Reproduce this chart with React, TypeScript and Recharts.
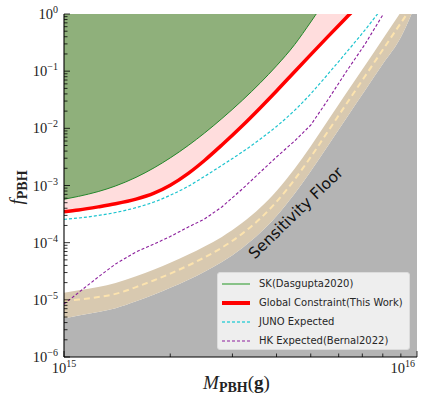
import React from 'react'
import { ComposedChart, Area, Line, XAxis, YAxis, ReferenceDot, Legend } from 'recharts'

// PBH mass grid (g)
const massGrams = [
  1.0e15, 1.1e15, 1.25e15, 1.4e15, 1.6e15, 1.8e15, 2.0e15, 2.25e15, 2.5e15, 2.8e15, 3.2e15,
  3.6e15, 4.0e15, 4.5e15, 5.0e15, 5.6e15, 6.3e15, 7.1e15, 8.0e15, 9.0e15, 1.0e16,
]

// f_PBH limits (values above 1 leave the frame)
const skDasgupta = [
  5.74e-4, 6.46e-4, 7.83e-4, 9.82e-4, 1.39e-3, 2.04e-3, 3.04e-3, 5.02e-3, 8.26e-3, 1.48e-2, 3.09e-2,
  6.25e-2, 0.124, 0.291, 0.724, 2.0, 5, 12, 30, 70, 150,
]
const globalConstraint = [
  3.48e-4, 3.74e-4, 4.23e-4, 4.79e-4, 5.78e-4, 7.35e-4, 1.01e-3, 1.63e-3, 2.74e-3, 5.11e-3, 1.11e-2,
  2.3e-2, 4.51e-2, 9.79e-2, 0.195, 0.406, 0.861, 1.84, 5, 12, 30,
]
const junoExpected = [
  2.56e-4, 2.7e-4, 2.99e-4, 3.37e-4, 4.1e-4, 5.15e-4, 6.75e-4, 9.7e-4, 1.44e-3, 2.25e-3, 3.86e-3,
  6.5e-3, 1.08e-2, 2.06e-2, 4.02e-2, 8.95e-2, 0.211, 0.512, 1.3, 3, 7,
]
const hkExpected = [
  8.46e-6, 1.34e-5, 2.51e-5, 4.24e-5, 6.87e-5, 9.48e-5, 1.28e-4, 1.88e-4, 2.59e-4, 4.21e-4, 8.69e-4,
  1.72e-3, 3.15e-3, 6.0e-3, 1.14e-2, 3.19e-2, 9.75e-2, 0.287, 0.96, 3, 8,
]
const floorUpper = [
  1.33e-5, 1.47e-5, 1.68e-5, 1.97e-5, 2.59e-5, 3.4e-5, 4.46e-5, 6.18e-5, 8.55e-5, 1.26e-4, 2.22e-4,
  4.12e-4, 8.04e-4, 1.97e-3, 4.88e-3, 1.38e-2, 4.09e-2, 0.122, 0.366, 1.08, 2.8,
]
const floorCentral = [
  9.66e-6, 1.01e-5, 1.12e-5, 1.27e-5, 1.67e-5, 2.2e-5, 2.88e-5, 3.99e-5, 5.52e-5, 8.17e-5, 1.44e-4,
  2.66e-4, 5.19e-4, 1.27e-3, 3.15e-3, 8.93e-3, 2.64e-2, 7.91e-2, 0.237, 0.697, 1.8,
]
const floorLower = [
  4.75e-6, 5.32e-6, 6.1e-6, 7.14e-6, 9.4e-6, 1.24e-5, 1.62e-5, 2.24e-5, 3.1e-5, 4.59e-5, 8.07e-5,
  1.5e-4, 2.92e-4, 7.14e-4, 1.77e-3, 5.02e-3, 1.49e-2, 4.45e-2, 0.133, 0.392, 1.7,
]

const xMajorTicks = [1e15, 1e16]
const xMinorTicks = [2e15, 3e15, 4e15, 5e15, 6e15, 7e15, 8e15, 9e15]
const yMajorTicks = [1e-6, 1e-5, 1e-4, 1e-3, 1e-2, 1e-1, 1]
const minorSteps = [2, 3, 4, 5, 6, 7, 8, 9]

const legendLabels = [
  'SK(Dasgupta2020)',
  'Global Constraint(This Work)',
  'JUNO Expected',
  'HK Expected(Bernal2022)',
]
const floorText = 'Sensitivity Floor'
const floorTextAt = { m: 4.54e15, f: 3.3e-4 }

const FILL_TOP = 1e3
const FILL_BOTTOM = 1e-7

const data = massGrams.map((m, i) => ({
  m,
  sk: skDasgupta[i],
  gc: globalConstraint[i],
  juno: junoExpected[i],
  hk: hkExpected[i],
  hi: floorUpper[i],
  mid: floorCentral[i],
  lo: floorLower[i],
}))

const xTicks = [...xMajorTicks, ...xMinorTicks].sort((a, b) => a - b)
const yTicks = [
  ...yMajorTicks,
  ...yMajorTicks.slice(0, -1).flatMap((t) => minorSteps.map((s) => s * t)),
].sort((a, b) => a - b)

const SERIF = '"Liberation Serif", "DejaVu Serif", serif'
const SANS = '"DejaVu Sans", sans-serif'

const isMajor = (v: number) => Math.abs(Math.log10(v) - Math.round(Math.log10(v))) < 1e-6
const expText = (v: number) => {
  const e = Math.round(Math.log10(v))
  return e < 0 ? `\u2212${-e}` : String(e)
}

function LeftTick(props: any) {
  const { x, y, payload } = props
  const major = isMajor(payload.value)
  return (
    <g>
      <line x1={x} y1={y} x2={x + (major ? 6 : 3.5)} y2={y} stroke="#000" strokeWidth={0.8} />
      {major && (
        <text x={x - 6} y={y + 5} textAnchor="end" fontFamily={SERIF} fontSize={14.5} fill="#222">
          10
          <tspan dy={-6} fontSize={10}>
            {expText(payload.value)}
          </tspan>
        </text>
      )}
    </g>
  )
}

function RightTick(props: any) {
  const { x, y, payload } = props
  const major = isMajor(payload.value)
  return <line x1={x} y1={y} x2={x - (major ? 6 : 3.5)} y2={y} stroke="#000" strokeWidth={0.8} />
}

function BottomTick(props: any) {
  const { x, y, payload } = props
  const major = isMajor(payload.value)
  const last = payload.value >= 1e16
  return (
    <g>
      <line x1={x} y1={y} x2={x} y2={y - (major ? 6 : 3.5)} stroke="#000" strokeWidth={0.8} />
      {major && (
        <text
          x={last ? x - 2 : x}
          y={y + 16}
          textAnchor={last ? 'end' : 'middle'}
          fontFamily={SERIF}
          fontSize={14.5}
          fill="#222"
        >
          10
          <tspan dy={-6} fontSize={10}>
            {expText(payload.value)}
          </tspan>
        </text>
      )}
    </g>
  )
}

function TopTick(props: any) {
  const { x, y, payload } = props
  const major = isMajor(payload.value)
  return <line x1={x} y1={y} x2={x} y2={y + (major ? 6 : 3.5)} stroke="#000" strokeWidth={0.8} />
}

function XTitle(props: any) {
  const vb = props.viewBox ?? { x: 64, y: 357, width: 353, height: 30 }
  return (
    <text
      x={vb.x + vb.width / 2 - 4}
      y={vb.y + 32}
      textAnchor="middle"
      fontFamily={SERIF}
      fontSize={19}
      fill="#222"
    >
      <tspan fontStyle="italic">M</tspan>
      <tspan fontWeight="bold" fontSize={14} dy={3}>
        PBH
      </tspan>
      <tspan dy={-3}>(</tspan>
      <tspan fontWeight="bold">g</tspan>
      <tspan>)</tspan>
    </text>
  )
}

function YTitle(props: any) {
  const vb = props.viewBox ?? { x: 8, y: 14, width: 56, height: 343 }
  const cx = vb.x + 15
  const cy = vb.y + vb.height / 2 + 2
  return (
    <text
      transform={`translate(${cx}, ${cy}) rotate(-90)`}
      textAnchor="middle"
      fontFamily={SERIF}
      fontSize={19}
      fill="#222"
    >
      <tspan fontStyle="italic">f</tspan>
      <tspan fontWeight="bold" fontSize={14} dy={4}>
        PBH
      </tspan>
    </text>
  )
}

const legendSamples = [
  { color: '#66b366', width: 1.5, dash: undefined as string | undefined },
  { color: '#ff0000', width: 4, dash: undefined },
  { color: '#3fcfd8', width: 1.5, dash: '3 2' },
  { color: '#8c1f9c', width: 1, dash: '3 2' },
]

function LegendBox() {
  return (
    <div
      style={{
        width: 193,
        height: 78,
        boxSizing: 'border-box',
        background: 'rgba(240,240,240,0.96)',
        border: '1px solid #dcdcdc',
        borderRadius: 3,
        paddingTop: 1,
        fontFamily: SANS,
        fontSize: 10,
        color: '#262626',
      }}
    >
      {legendLabels.map((label, i) => (
        <div key={label} style={{ display: 'flex', alignItems: 'center', height: 19 }}>
          <svg width={28} height={8} style={{ marginLeft: 4, marginRight: 9 }}>
            <line
              x1={0}
              y1={4}
              x2={28}
              y2={4}
              stroke={legendSamples[i].color}
              strokeWidth={legendSamples[i].width}
              strokeDasharray={legendSamples[i].dash}
            />
          </svg>
          <span style={{ whiteSpace: 'nowrap' }}>{label}</span>
        </div>
      ))}
    </div>
  )
}

export default function App() {
  return (
    <div style={{ position: 'absolute', left: 0, top: 0, width: 429, height: 397, background: '#fff' }}>
      <ComposedChart
        width={429}
        height={397}
        data={data}
        margin={{ top: 14, right: 12, bottom: 10, left: 8 }}
      >
        <Area
          type="monotone"
          dataKey={(d: any) => [FILL_BOTTOM, d.lo]}
          fill="#b4b4b4"
          fillOpacity={1}
          stroke="none"
          isAnimationActive={false}
        />
        <Area
          type="monotone"
          dataKey={(d: any) => [d.lo, d.hi]}
          fill="#d8c9b0"
          fillOpacity={1}
          stroke="none"
          isAnimationActive={false}
        />
        <Line
          type="monotone"
          dataKey="mid"
          stroke="#fce3ae"
          strokeWidth={2}
          strokeDasharray="6 4"
          dot={false}
          isAnimationActive={false}
        />
        <Area
          type="monotone"
          dataKey={(d: any) => [d.gc, FILL_TOP]}
          fill="#ffdddd"
          fillOpacity={1}
          stroke="none"
          isAnimationActive={false}
        />
        <Area
          type="monotone"
          dataKey={(d: any) => [d.sk, FILL_TOP]}
          fill="#8fb07b"
          fillOpacity={1}
          stroke="none"
          isAnimationActive={false}
        />
        <Line
          type="monotone"
          dataKey="sk"
          stroke="#23862a"
          strokeWidth={1}
          dot={false}
          isAnimationActive={false}
        />
        <Line
          type="monotone"
          dataKey="gc"
          stroke="#ff0000"
          strokeWidth={3.5}
          dot={false}
          isAnimationActive={false}
        />
        <Line
          type="monotone"
          dataKey="juno"
          stroke="#1ec4cf"
          strokeWidth={1.2}
          strokeDasharray="3 2"
          dot={false}
          isAnimationActive={false}
        />
        <Line
          type="linear"
          dataKey="hk"
          stroke="#8c1f9c"
          strokeWidth={1.1}
          strokeDasharray="3 2"
          dot={false}
          isAnimationActive={false}
        />
        <ReferenceDot
          x={floorTextAt.m}
          y={floorTextAt.f}
          r={0}
          shape={(p: any) => (
            <text
              x={p.cx}
              y={p.cy}
              transform={`rotate(-44 ${p.cx} ${p.cy})`}
              textAnchor="middle"
              dominantBaseline="central"
              fontFamily={SANS}
              fontSize={15.5}
              fill="#111"
            >
              {floorText}
            </text>
          )}
        />
        <XAxis
          dataKey="m"
          type="number"
          scale="log"
          domain={[1e15, 1e16]}
          allowDataOverflow
          ticks={xTicks}
          interval={0}
          tick={(p: any) => <BottomTick {...p} />}
          tickLine={false}
          tickSize={0}
          tickMargin={0}
          axisLine={{ stroke: '#000', strokeWidth: 1.1 }}
          height={30}
          label={<XTitle />}
        />
        <XAxis
          xAxisId="top"
          orientation="top"
          dataKey="m"
          type="number"
          scale="log"
          domain={[1e15, 1e16]}
          allowDataOverflow
          ticks={xTicks}
          interval={0}
          tick={(p: any) => <TopTick {...p} />}
          tickLine={false}
          tickSize={0}
          tickMargin={0}
          axisLine={{ stroke: '#000', strokeWidth: 1.1 }}
          height={0}
        />
        <YAxis
          type="number"
          scale="log"
          domain={[1e-6, 1]}
          allowDataOverflow
          ticks={yTicks}
          interval={0}
          tick={(p: any) => <LeftTick {...p} />}
          tickLine={false}
          tickSize={0}
          tickMargin={0}
          axisLine={{ stroke: '#000', strokeWidth: 1.1 }}
          width={56}
          label={<YTitle />}
        />
        <YAxis
          yAxisId="right"
          orientation="right"
          type="number"
          scale="log"
          domain={[1e-6, 1]}
          allowDataOverflow
          ticks={yTicks}
          interval={0}
          tick={(p: any) => <RightTick {...p} />}
          tickLine={false}
          tickSize={0}
          tickMargin={0}
          axisLine={{ stroke: '#000', strokeWidth: 1.1 }}
          width={0}
        />
        <Legend
          layout="vertical"
          align="center"
          verticalAlign="middle"
          content={() => <LegendBox />}
          wrapperStyle={{ left: 217, top: 272, width: 193, height: 78 }}
        />
      </ComposedChart>
    </div>
  )
}
